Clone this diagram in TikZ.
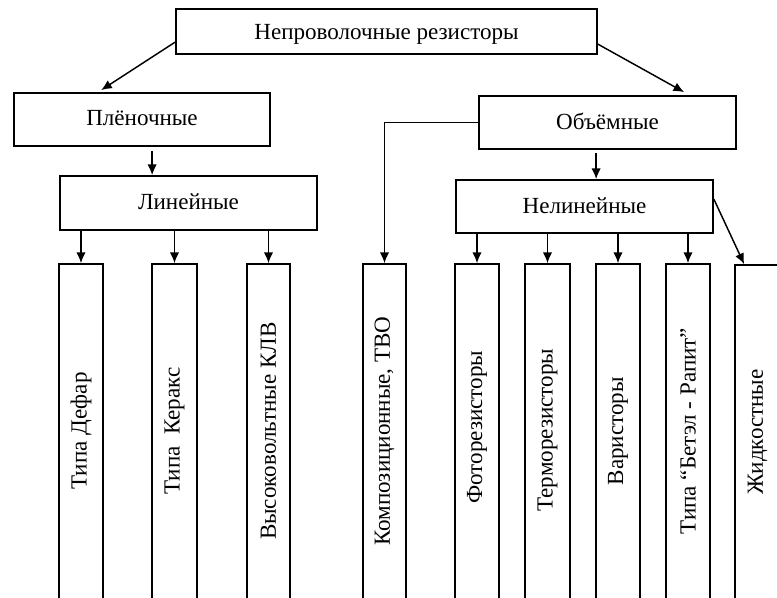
\documentclass[tikz,border=0pt]{standalone}
\usepackage{fontspec}
\setmainfont{Liberation Serif}
\usetikzlibrary{arrows.meta,fit,calc}
\begin{document}
\begin{tikzpicture}[x=0.75pt,y=-0.75pt,
  box/.style={draw,line width=1.3pt,inner sep=0pt},
  lbl/.style={inner sep=0pt,anchor=base,font=\fontsize{17.3}{20}\selectfont},
  vtext/.style={rotate=90,inner sep=0pt,font=\fontsize{17.3}{20}\selectfont},
  arr/.style={line width=1.1pt,-{Latex[length=8pt,width=7pt]}}]
\useasboundingbox (0,0) rectangle (777,598);
\clip (0,0) rectangle (777,598);
\fill[white] (0,0) rectangle (777,598);
% upper boxes
\node[box,fit={(176,9)(597,54)}] (top) {};
\node[box,fit={(14,93)(270,146)}] (plen) {};
\node[box,fit={(60,176)(317,230)}] (lin) {};
\node[box,fit={(479,96)(736,149)}] (obj) {};
\node[box,fit={(456,180)(713,233)}] (nelin) {};
\node[lbl] (ttop) at ($(top.center)+(0,8)$) {Непроволочные резисторы};
\node[lbl] (tplen) at ($(plen.center)+(0,6)$) {Плёночные};
\node[lbl] (tlin) at ($(lin.center)+(0,7)$) {Линейные};
\node[lbl] (tobj) at ($(obj.center)+(0,7)$) {Объёмные};
\node[lbl] (tnelin) at ($(nelin.center)+(0,7)$) {Нелинейные};
% tall boxes
\node[box,fit={(59,264)(103,600)}] (t1) {};
\node[box,fit={(152,264)(197,600)}] (t2) {};
\node[box,fit={(247,264)(290,600)}] (t3) {};
\node[box,fit={(363,264)(406,600)}] (t4) {};
\node[box,fit={(455,264)(499,600)}] (t5) {};
\node[box,fit={(525,264)(570,600)}] (t6) {};
\node[box,fit={(596,264)(640,600)}] (t7) {};
\node[box,fit={(666,264)(710,600)}] (t8) {};
\node[box,fit={(735,265)(780,600)}] (t9) {};
\node[vtext] (l1) at ($(t1.north)+(0,168)$) {Типа Дефар};
\node[vtext] (l2) at ($(t2.north)+(0,168)$) {Типа\ \ Керакс};
\node[vtext] (l3) at ($(t3.north)+(0,168)$) {Высоковольтные КЛВ};
\node[vtext] (l4) at ($(t4.north)+(0,168)$) {Композиционные, ТВО};
\node[vtext] (l5) at ($(t5.north)+(0,164)$) {Фоторезисторы};
\node[vtext] (l6) at ($(t6.north)+(0,167)$) {Терморезисторы};
\node[vtext] (l7) at ($(t7.north)+(0,168)$) {Варисторы};
\node[vtext] (l8) at ($(t8.north)+(0,168)$) {Типа “Бетэл - Рапит”};
\node[vtext] (l9) at ($(t9.north)+(0,168)$) {Жидкостные};
% connectors
\draw[arr] ($(top.north west)+(0,34)$) -- ($(plen.north west)+(88,-2)$);
\draw[arr] ($(top.north east)+(0,36)$) -- ($(obj.north west)+(206,-3)$);
\draw[arr] ($(plen.south west)+(139,4)$) -- ($(lin.north west)+(93,0)$);
\draw[arr] ($(obj.south west)+(118,3)$) -- ($(nelin.north west)+(141,0)$);
\draw[arr] (lin.south -| t1.north) -- (t1.north);
\draw[arr] (lin.south -| t2.north) -- (t2.north);
\draw[arr] (lin.south -| t3.north) -- (t3.north);
\draw[arr] (nelin.south -| t5.north) -- (t5.north);
\draw[arr] (nelin.south -| t6.north) -- (t6.north);
\draw[arr] (nelin.south -| t7.north) -- (t7.north);
\draw[arr] (nelin.south -| t8.north) -- (t8.north);
\draw[arr] ($(nelin.north east)+(0,20)$) -- ($(t9.north west)+(10,0)$);
\draw[arr] (obj.west) -| (t4.north);
\end{tikzpicture}
\end{document}
